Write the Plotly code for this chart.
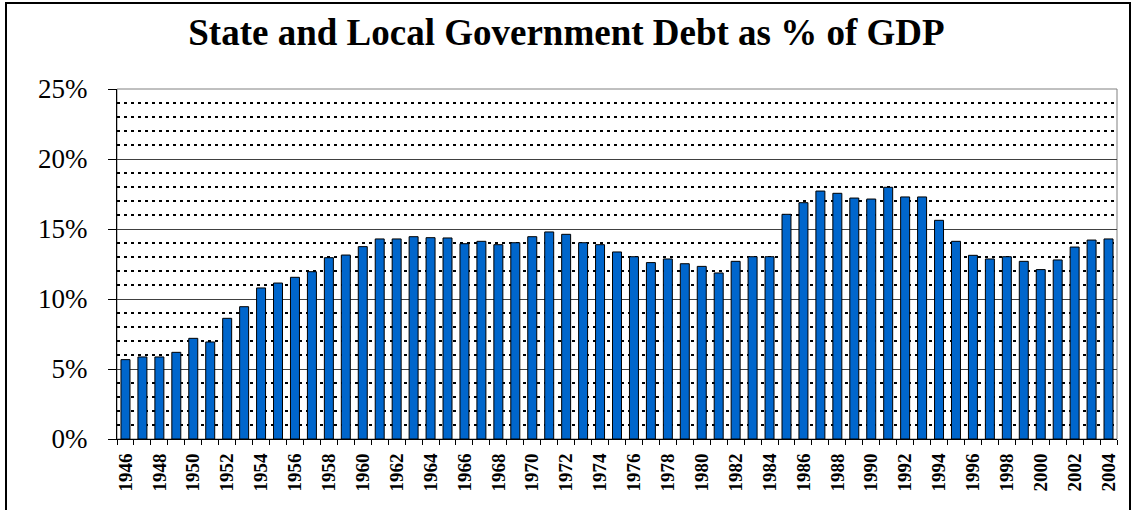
import plotly.graph_objects as go

years = list(range(1946, 2005))
debt_pct = [
    5.67, 5.86, 5.86, 6.19, 7.19, 6.93, 8.62, 9.45, 10.79, 11.14,
    11.55, 11.95, 12.95, 13.14, 13.74, 14.29, 14.29, 14.45, 14.38, 14.36,
    13.95, 14.12, 13.88, 14.02, 14.45, 14.79, 14.62, 14.02, 13.88, 13.36,
    13.02, 12.60, 12.86, 12.52, 12.33, 11.86, 12.69, 13.02, 13.02, 16.05,
    16.88, 17.71, 17.55, 17.21, 17.14, 17.98, 17.29, 17.29, 15.62, 14.12,
    13.12, 12.86, 13.02, 12.69, 12.10, 12.79, 13.71, 14.21, 14.29,
]
label_years = [y for y in years if y % 2 == 0]
boundaries = [y - 0.5 for y in years] + [years[-1] + 0.5]
title_text = "State and Local Government Debt as % of GDP"

W, H = 1133, 510
L, R, T, B = 117, 16, 89, 71
pw, ph = W - L - R, H - T - B

def px_x(px):
    return (px - L) / pw

def px_y(py):
    return (H - B - py) / ph

fig = go.Figure()
fig.add_trace(go.Bar(
    x=years,
    y=[v / 100 for v in debt_pct],
    marker=dict(color="#0066CC", line=dict(color="black", width=1)),
    width=0.53,
))

fig.update_layout(
    width=W, height=H,
    margin=dict(l=L, r=R, t=T, b=B, autoexpand=False),
    paper_bgcolor="white",
    plot_bgcolor="white",
    showlegend=False,
    font=dict(family="Liberation Serif, Times New Roman, serif", color="black"),
    title=dict(
        text="<b>" + title_text + "</b>",
        font=dict(size=37, family="Liberation Serif, Times New Roman, serif", color="black"),
        x=0.5, xref="container", xanchor="center",
        y=1 - 32 / H, yref="container", yanchor="middle",
    ),
    xaxis=dict(
        range=[years[0] - 0.5, years[-1] + 0.5],
        tickmode="array",
        tickvals=label_years,
        ticktext=["<b>%d</b>" % y for y in label_years],
        tickangle=-90,
        tickfont=dict(size=19, family="Liberation Serif, Times New Roman, serif"),
        ticks="outside", ticklen=6, tickcolor="rgba(0,0,0,0)",
        showgrid=False,
        showline=True, linecolor="black", linewidth=1,
        zeroline=False,
        minor=dict(tickmode="array", tickvals=boundaries, ticks="outside",
                   ticklen=5, tickcolor="black", tickwidth=1, showgrid=False),
        fixedrange=True,
    ),
    yaxis=dict(
        range=[0, 0.25],
        tickmode="linear", tick0=0, dtick=0.05,
        tickformat=".0%",
        tickfont=dict(size=27, family="Liberation Serif, Times New Roman, serif"),
        ticks="outside", ticklen=8, tickcolor="black", tickwidth=1,
        ticklabelstandoff=15,
        showgrid=True, gridcolor="#404040", gridwidth=1,
        showline=True, linecolor="black", linewidth=1,
        zeroline=False,
        minor=dict(dtick=0.01, showgrid=True, gridcolor="black",
                   griddash="3px,4px", gridwidth=2, ticks=""),
        fixedrange=True,
    ),
    shapes=[
        dict(type="rect", xref="paper", yref="paper", x0=0, x1=1, y0=0, y1=1,
             line=dict(color="#808080", width=1), layer="below"),
        dict(type="rect", xref="paper", yref="paper",
             x0=px_x(6), x1=px_x(1130), y0=px_y(516), y1=px_y(3),
             line=dict(color="black", width=2), layer="above"),
    ],
)

fig.write_html(
    "out.html",
    config={"displayModeBar": False},
    post_script="document.body.style.margin='0';document.body.style.padding='0';",
)
